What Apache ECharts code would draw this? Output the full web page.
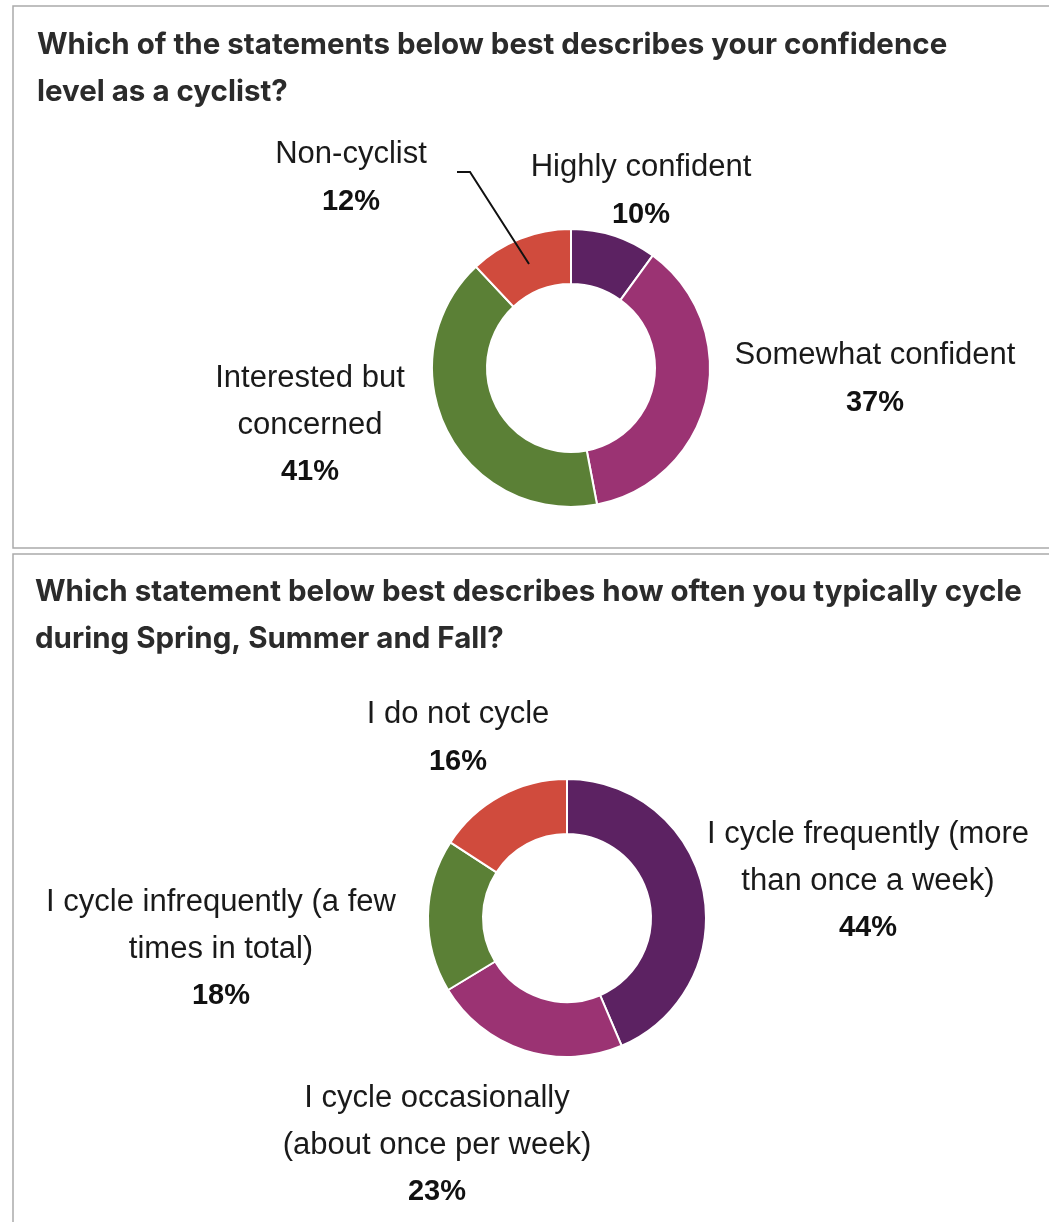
<!DOCTYPE html>
<html>
<head>
<meta charset="utf-8">
<script src="https://cdn.jsdelivr.net/npm/echarts@6/dist/echarts.min.js"></script>
<style>
html, body { margin: 0; padding: 0; background: #fff; }
#chart { width: 1049px; height: 1222px; }
</style>
</head>
<body>
<div id="chart"></div>
<script>
var FONT = '"Liberation Sans", Arial, sans-serif';
var TITLE_FONT = 'Inter, "Liberation Sans", sans-serif';

// confidence question
var confNames = ['Highly confident', 'Somewhat confident', 'Interested but\nconcerned', 'Non-cyclist'];
var confValues = [10, 37, 41, 12];
// frequency question
var freqNames = ['I cycle frequently (more\nthan once a week)', 'I cycle occasionally\n(about once per week)', 'I cycle infrequently (a few\ntimes in total)', 'I do not cycle'];
var freqValues = [44, 23, 18, 16];

var sliceColors = ['#5c2262', '#9b3373', '#5b8036', '#d04b3d'];

// label block centres (pixels)
var confLabelPos = [[641, 191], [875, 379], [310, 425], [351, 178]];
var freqLabelPos = [[868, 881], [437, 1145], [221, 949], [458, 738]];

function toData(names, values) {
	var out = [];
	for (var i = 0; i < names.length; i++) {
		out.push({ name: names[i], value: values[i], itemStyle: { color: sliceColors[i] } });
	}
	return out;
}

function labelText(p) {
	var lines = p.name.split('\n');
	var s = [];
	for (var i = 0; i < lines.length; i++) s.push('{n|' + lines[i] + '}');
	s.push('{p|' + p.value + '%}');
	return s.join('\n');
}

function makePie(names, values, center, labelPos) {
	return {
		type: 'pie',
		center: center,
		radius: [84, 139],
		startAngle: 90,
		clockwise: true,
		avoidLabelOverlap: false,
		silent: true,
		itemStyle: { borderColor: '#fff', borderWidth: 2 },
		label: {
			show: true,
			formatter: labelText,
			rich: {
				n: { fontFamily: FONT, fontSize: 31, lineHeight: 47, color: '#1a1a1a' },
				p: { fontFamily: FONT, fontSize: 29, fontWeight: 'bold', lineHeight: 47, color: '#111' }
			}
		},
		labelLine: { show: false },
		labelLayout: function (params) {
			var pos = labelPos[params.dataIndex];
			return { x: pos[0], y: pos[1], align: 'center', verticalAlign: 'middle' };
		},
		data: toData(names, values)
	};
}

var chart = echarts.init(document.getElementById('chart'));
chart.setOption({
	animation: false,
	title: [{
		text: 'Which of the statements below best describes your confidence\nlevel as a cyclist?',
		left: 32, top: 17,
		textStyle: { fontFamily: TITLE_FONT, fontSize: 29.5, fontWeight: 'bold', color: '#2b2b2b', lineHeight: 47 }
	}, {
		text: 'Which statement below best describes how often you typically cycle\nduring Spring, Summer and Fall?',
		left: 30, top: 564,
		textStyle: { fontFamily: TITLE_FONT, fontSize: 29.5, fontWeight: 'bold', color: '#2b2b2b', lineHeight: 47 }
	}],
	graphic: [
		{ type: 'rect', shape: { x: 13, y: 6, width: 1050, height: 542 }, style: { fill: 'none', stroke: '#aaa', lineWidth: 1.5 } },
		{ type: 'rect', shape: { x: 13, y: 554, width: 1050, height: 700 }, style: { fill: 'none', stroke: '#aaa', lineWidth: 1.5 } },
		{ type: 'polyline', z: 10, shape: { points: [[457, 172], [470, 172], [529, 264]] }, style: { fill: 'none', stroke: '#111', lineWidth: 2 } }
	],
	series: [
		makePie(confNames, confValues, [571, 368], confLabelPos),
		makePie(freqNames, freqValues, [567, 918], freqLabelPos)
	]
});
</script>
</body>
</html>
